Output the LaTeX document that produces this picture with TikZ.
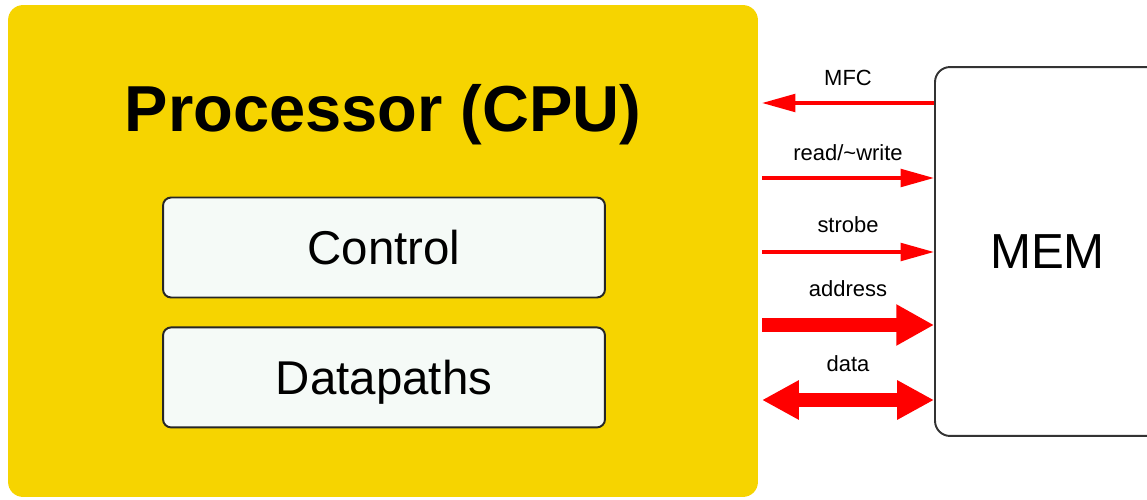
\documentclass[tikz,border=0pt]{standalone}
\usepackage{fontspec}
\setmainfont{Liberation Sans}
\usetikzlibrary{arrows.meta, positioning}
\definecolor{cpuyellow}{HTML}{F6D400}
\definecolor{boxwhite}{HTML}{F5FAF7}
\definecolor{sigred}{HTML}{FF0000}

\begin{document}
\begin{tikzpicture}[x=0.02cm, y=-0.02cm, >=Stealth,
    unit/.style={draw=black!85, line width=1.1pt, fill=boxwhite, rounded corners=0.16cm,
        minimum width=8.84cm, minimum height=2.0cm, text depth=0pt, inner sep=0pt,
        font=\fontsize{27}{30}\selectfont},
    sig/.style={draw=sigred, fill=sigred, line width=2pt},
    bus/.style={draw=sigred, fill=sigred, line width=8.5pt},
    thin tip/.style={-{Triangle[length=19pt, width=10pt]}},
    lbl/.style={font=\fontsize{12.5}{14}\selectfont, anchor=base, inner sep=0pt}]
    \useasboundingbox (0,0) rectangle (1147,500);

    \node (cpu) [fill=cpuyellow, rounded corners=0.3cm, minimum width=15cm,
        minimum height=9.84cm, inner sep=0pt] at (383,251) {};
    \node (title) [anchor=base, font=\fontsize{37}{40}\selectfont\bfseries] at (383,132) {Processor (CPU)};
    \node (ctrl) [unit] at (384,247.5) {Control};
    \node (dp) [unit, below=0.56cm of ctrl] {Datapaths};

    \node (mem) [draw=black!80, line width=1.1pt, fill=white, rounded corners=0.3cm,
        minimum width=4.5cm, minimum height=7.38cm, inner sep=0pt,
        font=\fontsize{28}{30}\selectfont] at (1047.5,251.5) {MEM};

    \coordinate (mfc) at (762,103);
    \coordinate (rw) at (762,178);
    \coordinate (stb) at (762,252);
    \coordinate (adr) at (762,325);
    \coordinate (dat) at (762,400);

    \draw [sig, {Triangle[length=19pt, width=10pt]}-] (mfc) -- (mfc -| mem.west)
        node [lbl, midway, yshift=9.7pt] (mfcTxt) {MFC};
    \draw [sig, thin tip] (rw) -- (rw -| mem.west)
        node [lbl, midway, yshift=10.2pt] (rwTxt) {read/\textasciitilde write};
    \draw [sig, thin tip] (stb) -- (stb -| mem.west)
        node [lbl, midway, yshift=11pt] (stbTxt) {strobe};
    \draw [bus, -{Triangle[length=21.5pt, width=22pt]}] (adr) -- (adr -| mem.west)
        node [lbl, midway, yshift=16pt] (adrTxt) {address};
    \draw [bus, {Triangle[length=21pt, width=21pt]}-{Triangle[length=21pt, width=21pt]}] (dat) -- (dat -| mem.west)
        node [lbl, midway, yshift=16.5pt] (datTxt) {data};
\end{tikzpicture}
\end{document}
